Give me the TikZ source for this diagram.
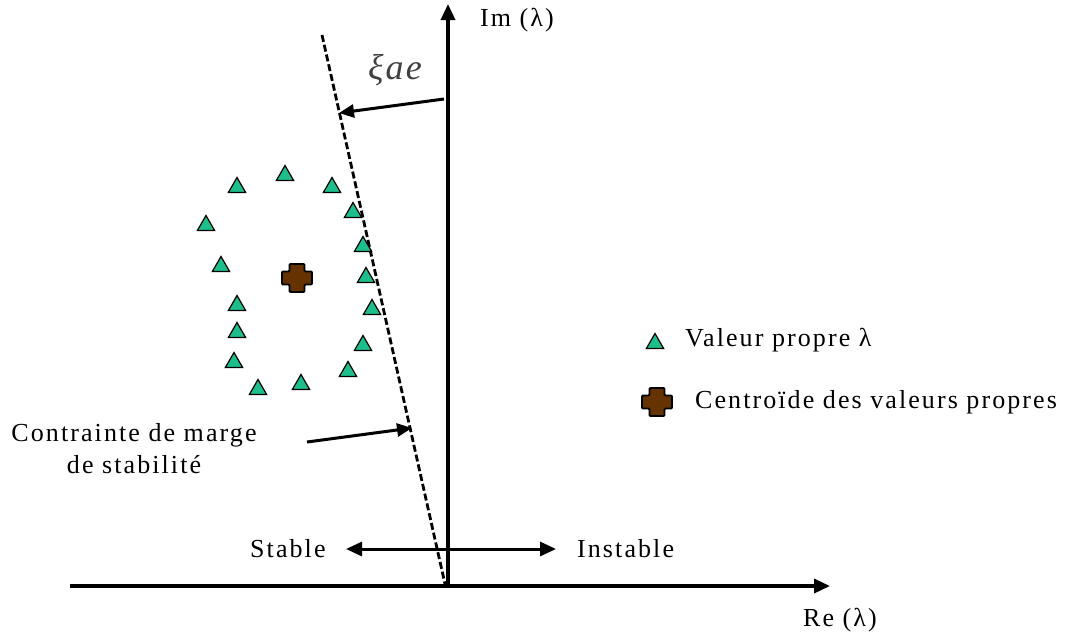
\documentclass[tikz,border=0pt]{standalone}
\usepackage{fontspec}
\setmainfont{Liberation Serif}
\newfontfamily\lab[LetterSpace=8]{Liberation Serif}
\newfontfamily\xifont[LetterSpace=6]{Liberation Serif}
\usetikzlibrary{arrows.meta,shapes.geometric}
\definecolor{eig}{RGB}{30,190,140}
\definecolor{cent}{RGB}{102,51,0}
\tikzset{
  axis/.style={line width=3.4pt,-{Triangle[length=16pt,width=14pt]}},
  arr/.style={line width=3pt,-{Triangle[length=15pt,width=13pt]}},
  darr/.style={line width=3pt,{Triangle[length=16pt,width=14pt]}-{Triangle[length=16pt,width=14pt]}},
  margin/.style={line width=2.8pt,dash pattern=on 7pt off 3pt},
  txt/.style={font=\lab\fontsize{26}{32}\selectfont,inner sep=0pt},
  eigv/.style={regular polygon,regular polygon sides=3,minimum size=20pt,inner sep=0pt,fill=eig,draw=black,line width=1.2pt},
  plus/.pic={\draw[fill=cent,line width=1.8pt,rounded corners=1pt]
     (-7.5,-14) -- (7.5,-14) -- (7.5,-6.5) -- (15,-6.5) -- (15,6.5) -- (7.5,6.5) -- (7.5,14)
     -- (-7.5,14) -- (-7.5,6.5) -- (-15,6.5) -- (-15,-6.5) -- (-7.5,-6.5) -- cycle;}
}
\begin{document}
\begin{tikzpicture}[x=1pt,y=-1pt]
\useasboundingbox (0,0) rectangle (1071,635);
% axes
\coordinate (reS) at (70,586);
\coordinate (reE) at (830,586);
\coordinate (imS) at (448,588);
\coordinate (imE) at (448,4);
\draw[axis] (reS) -- (reE);
\draw[axis] (imS) -- (imE);
\node[txt,anchor=west] (relab) at (803,620) {Re (λ)};
\node[txt,anchor=west] (imlab) at (480,20) {Im (λ)};
% stability margin
\coordinate (mT) at (322,35);
\coordinate (mB) at (445,584);
\draw[margin] (mT) -- (mB);
% xi a e
\coordinate (xiS) at (444,99);
\coordinate (xiE) at (339,113);
\draw[arr] (xiS) -- (xiE);
\node[inner sep=0pt,text=black!75,font=\xifont\itshape\fontsize{36}{36}\selectfont] (xi) at (395,70) {ξae};
% constraint label
\node[txt,align=center] (cons) at (134,449) {Contrainte de marge\\de stabilité};
\coordinate (cS) at (307,442);
\coordinate (cE) at (412,428);
\draw[arr] (cS) -- (cE);
% stable / instable
\coordinate (sL) at (346,549);
\coordinate (sR) at (556,549);
\draw[darr] (sL) -- (sR);
\node[txt,anchor=west] (stab) at (250,549) {Stable};
\node[txt,anchor=west] (inst) at (577,549) {Instable};
% eigenvalues
\foreach \i/\x/\y in {1/285/173,2/237/185,3/332/185,4/353/210,5/206/223,6/363/244,7/221/264,8/366/275,9/237/303,10/372/307,11/237/330,12/363/343,13/234/360,14/348/369,15/258/387,16/301/382}
  \node[eigv] (e\i) at (\x,\y+2.5) {};
\pic (cen) at (297,278) {plus};
% legend
\node[eigv] (legtri) at (655,343.5) {};
\node[txt,anchor=west] (legtxt1) at (685,340) {Valeur propre λ};
\pic (legcen) at (657,402) {plus};
\node[txt,anchor=west] (legtxt2) at (695,402) {Centroïde des valeurs propres};
\end{tikzpicture}
\end{document}
